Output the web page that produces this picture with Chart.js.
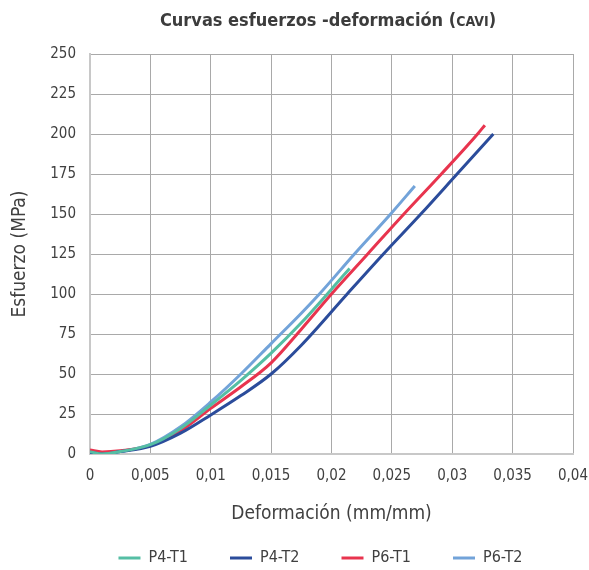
<!DOCTYPE html>
<html>
<head>
<meta charset="utf-8">
<script src="https://cdn.jsdelivr.net/npm/chart.js@4.4.0/dist/chart.umd.min.js"></script>
<style>
  html, body { margin: 0; padding: 0; background: #fff; }
  #wrap { position: relative; width: 589px; height: 570px; }
  #title {
    position: absolute; left: 0; top: 9px; width: 656px; text-align: center;
    font: bold 18px 'Liberation Sans Narrow', 'DejaVu Sans Condensed', sans-serif;
    color: #3c3c3c;
  }
  #title span { font-size: 14px; }
</style>
</head>
<body>
<div id="wrap">
  <div id="title">Curvas esfuerzos -deformación (<span>CAVI</span>)</div>
  <canvas id="chart" width="589" height="570"></canvas>
</div>
<script>
const seriesNames = ['P4-T1', 'P4-T2', 'P6-T1', 'P6-T2'];
const seriesColors = ['#55bea4', '#2b4c9b', '#e8344e', '#72a3d9'];

const p4t1X = [0, 0.001, 0.0025, 0.005, 0.0075, 0.01, 0.0125, 0.015, 0.0175, 0.02, 0.0215];
const p4t1Y = [1.5, 0, 1.5, 5.8, 16, 30.6, 46, 63, 82, 103, 116];

const p4t2X = [0, 0.001, 0.0025, 0.005, 0.0075, 0.01, 0.0125, 0.015, 0.0175, 0.0213, 0.0243, 0.0274, 0.0304, 0.0334];
const p4t2Y = [1, 0, 1.5, 4.8, 13, 24.4, 36.5, 50, 68, 100, 125, 150, 175, 200];

const p6t1X = [0, 0.001, 0.0025, 0.005, 0.0075, 0.01, 0.0125, 0.015, 0.0175, 0.02, 0.023, 0.026, 0.0291, 0.0321, 0.0327];
const p6t1Y = [2.5, 1.3, 2, 5.2, 14.5, 28.5, 42, 57, 78, 100, 125, 150, 175, 200, 205.5];

const p6t2X = [0, 0.001, 0.0025, 0.005, 0.0075, 0.01, 0.0125, 0.015, 0.0175, 0.019, 0.0219, 0.0249, 0.0269];
const p6t2Y = [1.5, -0.3, 1.5, 6, 17, 32.5, 50, 69, 88, 100, 125, 150, 167.5];

const xTickLabels = ['0', '0,005', '0,01', '0,015', '0,02', '0,025', '0,03', '0,035', '0,04'];
const yTickLabels = ['0', '25', '50', '75', '100', '125', '150', '175', '200', '225', '250'];

const allX = [p4t1X, p4t2X, p6t1X, p6t2X];
const allY = [p4t1Y, p4t2Y, p6t1Y, p6t2Y];

const FONT = "'Liberation Sans Narrow', 'DejaVu Sans Condensed', sans-serif";
const gridColor = '#a9a9a9';

function toPoints(xs, ys) {
    return xs.map((x, i) => ({ x: x, y: ys[i] }));
}

const datasets = seriesNames.map((name, i) => ({
    label: name,
    data: toPoints(allX[i], allY[i]),
    borderColor: seriesColors[i],
    backgroundColor: seriesColors[i],
    borderWidth: 3,
    showLine: true,
    pointRadius: 0,
    cubicInterpolationMode: 'monotone',
    fill: false
}));

// legend: keep the wide item spacing but place it by hand at the bottom
const legendPlace = {
    id: 'legendPlace',
    beforeLayout(chart) {
        const lg = chart.legend;
        if (lg && !lg._wrapped) {
            const fit = lg.fit.bind(lg);
            lg.fit = function () { fit(); this.height = 34; };
            lg._wrapped = true;
        }
    },
    afterLayout(chart) {
        chart.legend.left = 68;
        chart.legend.right = 573;
        chart.legend.top = 508;
    }
};

new Chart(document.getElementById('chart'), {
    type: 'scatter',
    data: { datasets: datasets },
    plugins: [legendPlace],
    options: {
        responsive: false,
        animation: false,
        layout: { padding: { top: 54, right: 16, left: 0, bottom: 0 } },
        plugins: {
            tooltip: { enabled: false },
            legend: {
                position: 'bottom',
                labels: {
                    usePointStyle: true,
                    pointStyle: 'line',
                    pointStyleWidth: 22,
                    boxHeight: 15,
                    padding: 42,
                    color: '#404040',
                    font: { family: FONT, size: 16 }
                }
            }
        },
        scales: {
            x: {
                type: 'linear',
                min: 0,
                max: 0.04,
                afterFit(scale) {
                    scale.height = 82;
                    scale.paddingLeft = 0;
                    scale.paddingRight = 0;
                },
                afterBuildTicks(scale) {
                    scale.ticks = xTickLabels.map((t, i) => ({ value: i * 0.005 }));
                },
                ticks: {
                    padding: 13,
                    color: '#404040',
                    font: { family: FONT, size: 15 },
                    maxRotation: 0,
                    callback: (v, i) => xTickLabels[i]
                },
                grid: { color: gridColor, drawTicks: false },
                border: { color: '#c8c8c8', width: 2 },
                title: {
                    display: true,
                    text: 'Deformación (mm/mm)',
                    color: '#404040',
                    font: { family: FONT, size: 19 },
                    padding: { top: 4, bottom: 11 }
                }
            },
            y: {
                min: 0,
                max: 250,
                afterFit(scale) { scale.width = 90; },
                afterBuildTicks(scale) {
                    scale.ticks = yTickLabels.map(t => ({ value: Number(t) }));
                },
                ticks: {
                    padding: 14,
                    color: '#404040',
                    font: { family: FONT, size: 15 },
                    callback: (v, i) => yTickLabels[i]
                },
                grid: { color: gridColor, drawTicks: false },
                border: { color: '#c8c8c8', width: 2 },
                title: {
                    display: true,
                    text: 'Esfuerzo (MPa)',
                    color: '#404040',
                    font: { family: FONT, size: 19 },
                    padding: { top: 9, bottom: 4 }
                }
            }
        }
    }
});
</script>
</body>
</html>
